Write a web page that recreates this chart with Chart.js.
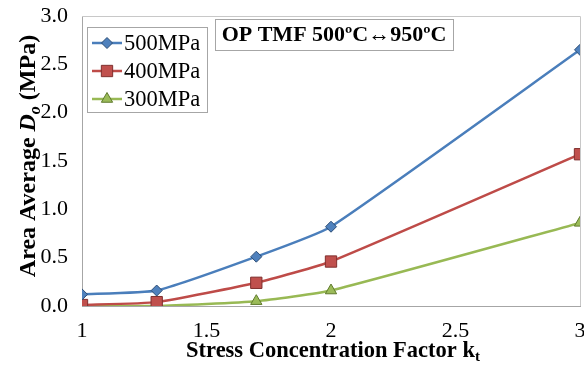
<!DOCTYPE html>
<html>
<head>
<meta charset="utf-8">
<script src="https://cdn.jsdelivr.net/npm/chart.js@4.4.0/dist/chart.umd.min.js"></script>
<style>
  html, body { margin: 0; padding: 0; background: #fff; }
  #wrap { width: 584px; height: 369px; position: relative; }
</style>
</head>
<body>
<div id="wrap"><canvas id="myChart" width="584" height="369"></canvas></div>
<script>
// Data
let kt = [1, 1.3, 1.7, 2, 3];
let serieNavn = ['500MPa', '400MPa', '300MPa'];
let d500 = [0.12, 0.16, 0.51, 0.82, 2.65];
let d400 = [0.01, 0.04, 0.24, 0.46, 1.57];
let d300 = [0.00, 0.00, 0.05, 0.16, 0.86];
let xTicks = [1, 1.5, 2, 2.5, 3];
let yTicks = [0, 0.5, 1.0, 1.5, 2.0, 2.5, 3.0];

const serif = '"Liberation Serif", "Times New Roman", serif';

function lagPunkter(verdier) {
  return kt.map((x, i) => ({ x: x, y: verdier[i] }));
}

// Plugin som tegner ramme, tittelboks, legende og aksetitler
const ekstra = {
  id: 'ekstra',
  afterDraw(chart) {
    const ctx = chart.ctx;
    const a = chart.chartArea;
    ctx.save();

    // ramme rundt plottet
    ctx.strokeStyle = '#c8c8c8';
    ctx.lineWidth = 1;
    ctx.beginPath();
    ctx.moveTo(a.left, a.top + 0.5);
    ctx.lineTo(a.right + 0.5, a.top + 0.5);
    ctx.lineTo(a.right + 0.5, a.bottom);
    ctx.stroke();

    // tittelboks
    ctx.fillStyle = '#fff';
    ctx.fillRect(215, 19, 238, 31);
    ctx.strokeStyle = '#a6a6a6';
    ctx.strokeRect(215.5, 19.5, 238, 31);
    ctx.fillStyle = '#000';
    ctx.font = 'bold 22px ' + serif;
    ctx.textAlign = 'center';
    ctx.textBaseline = 'middle';
    ctx.fillText('OP TMF 500ºC↔950ºC', 334, 35);

    // legende
    ctx.fillStyle = '#fff';
    ctx.fillRect(87, 27, 120, 85);
    ctx.strokeStyle = '#a6a6a6';
    ctx.strokeRect(87.5, 27.5, 120, 85);
    const rader = [43, 71, 99];
    chart.data.datasets.forEach((ds, i) => {
      const y = rader[i];
      ctx.strokeStyle = ds.borderColor;
      ctx.lineWidth = 2.5;
      ctx.beginPath();
      ctx.moveTo(92, y);
      ctx.lineTo(122, y);
      ctx.stroke();
      ctx.fillStyle = ds.pointBackgroundColor;
      ctx.strokeStyle = ds.pointBorderColor;
      ctx.lineWidth = 1;
      Chart.helpers.drawPoint(ctx, {
        pointStyle: ds.pointStyle,
        radius: ds.pointRadius,
        rotation: 0,
        borderWidth: 1
      }, 107, y);
      ctx.fillStyle = '#000';
      ctx.font = '22.5px ' + serif;
      ctx.textAlign = 'left';
      ctx.textBaseline = 'middle';
      ctx.fillText(ds.label, 124, y + 1);
    });

    // x-aksetittel med senket t
    ctx.fillStyle = '#000';
    ctx.textBaseline = 'alphabetic';
    ctx.textAlign = 'left';
    const xt = 'Stress Concentration Factor k';
    ctx.font = 'bold 15px ' + serif;
    const wt = ctx.measureText('t').width;
    ctx.font = 'bold 22.5px ' + serif;
    const wx = ctx.measureText(xt).width;
    const x0 = 333 - (wx + wt) / 2;
    ctx.fillText(xt, x0, 357);
    ctx.font = 'bold 15px ' + serif;
    ctx.fillText('t', x0 + wx, 361);

    // y-aksetittel med kursiv D og senket o
    ctx.translate(35, 156);
    ctx.rotate(-Math.PI / 2);
    const deler = [
      { t: 'Area Average ', f: 'bold 24px ' + serif, dy: 0 },
      { t: 'D', f: 'bold italic 24px ' + serif, dy: 0 },
      { t: 'o', f: 'bold italic 16px ' + serif, dy: 5 },
      { t: ' (MPa)', f: 'bold 24px ' + serif, dy: 0 }
    ];
    let total = 0;
    deler.forEach(d => { ctx.font = d.f; d.w = ctx.measureText(d.t).width; total += d.w; });
    let px = -total / 2;
    deler.forEach(d => {
      ctx.font = d.f;
      ctx.fillText(d.t, px, d.dy);
      px += d.w;
    });

    ctx.restore();
  }
};

function tegnDiagram() {
  const ctx = document.getElementById('myChart').getContext('2d');
  new Chart(ctx, {
    type: 'line',
    data: {
      datasets: [{
        label: serieNavn[0],
        data: lagPunkter(d500),
        borderColor: '#4a7ebb',
        pointBackgroundColor: '#4f81bd',
        pointBorderColor: '#2c4d75',
        pointStyle: 'rectRot',
        pointRadius: 5.5
      }, {
        label: serieNavn[1],
        data: lagPunkter(d400),
        borderColor: '#be4b48',
        pointBackgroundColor: '#c0504d',
        pointBorderColor: '#7f2f2d',
        pointStyle: 'rect',
        pointRadius: 8
      }, {
        label: serieNavn[2],
        data: lagPunkter(d300),
        borderColor: '#98b954',
        pointBackgroundColor: '#9bbb59',
        pointBorderColor: '#5f7a2c',
        pointStyle: 'triangle',
        pointRadius: 6.5
      }]
    },
    options: {
      responsive: false,
      animation: false,
      layout: { autoPadding: false, padding: { left: 0, right: 4, top: 16, bottom: 0 } },
      elements: {
        line: { borderWidth: 2.5, tension: 0.15, fill: false },
        point: { borderWidth: 1 }
      },
      plugins: {
        legend: { display: false },
        tooltip: { enabled: false }
      },
      scales: {
        x: {
          type: 'linear',
          min: 1,
          max: 3,
          afterBuildTicks: s => { s.ticks = xTicks.map(v => ({ value: v })); },
          afterFit: s => { s.height = 63; s.paddingLeft = 0; s.paddingRight = 0; },
          grid: { display: false, drawTicks: false },
          border: { display: true, color: '#a6a6a6', width: 1 },
          ticks: {
            padding: 12,
            maxRotation: 0,
            color: '#000',
            font: { family: serif, size: 22 },
            callback: v => String(v)
          }
        },
        y: {
          min: 0,
          max: 3,
          afterBuildTicks: s => { s.ticks = yTicks.map(v => ({ value: v })); },
          afterFit: s => { s.width = 82; s.paddingTop = 0; s.paddingBottom = 0; },
          grid: { display: false, drawTicks: false },
          border: { display: true, color: '#a6a6a6', width: 1 },
          ticks: {
            padding: 14,
            color: '#000',
            font: { family: serif, size: 22 },
            callback: v => v.toFixed(1)
          }
        }
      }
    },
    plugins: [ekstra]
  });
}

window.onload = function () {
  tegnDiagram();
};
</script>
</body>
</html>
